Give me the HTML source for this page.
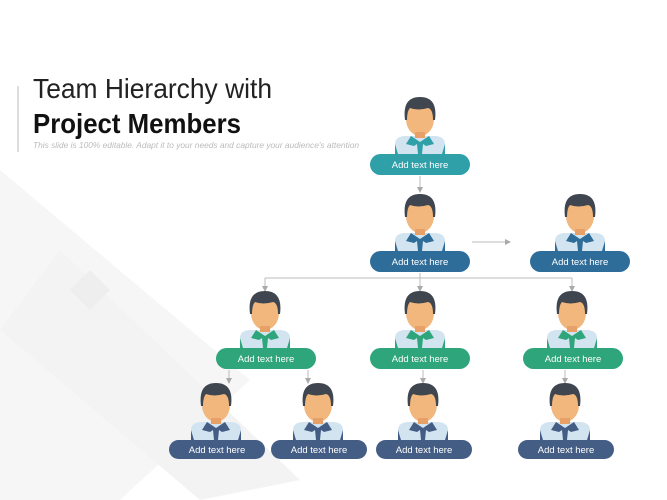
<!DOCTYPE html>
<html><head><meta charset="utf-8"><style>
html,body{margin:0;padding:0;background:#fff}
svg{display:block}
</style></head><body>
<svg width="667" height="500" viewBox="0 0 667 500" xmlns="http://www.w3.org/2000/svg" font-family="Liberation Sans, sans-serif">
<defs>
<marker id="ar" markerWidth="6" markerHeight="6" refX="3" refY="3" orient="auto"><path d="M0,0 L6,3 L0,6 z" fill="#aaa"/></marker>
<g id="p">
<path d="M-25,0 L-25,-10 Q-25,-17 -16,-18 L16,-18 Q25,-17 25,-10 L25,0 z" fill="#d3e4f1"/>
<ellipse cx="0" cy="-35" rx="14" ry="17" fill="#f2b77c"/>
<path d="M-15,-34 Q-18,-57 0,-57 Q18,-57 15,-34 L13,-34 Q13,-45 8,-46 Q-2,-43 -10,-46 Q-13,-43 -13,-34 z" fill="#3f4650"/>
<rect x="-5" y="-22" width="10" height="6" fill="#e6a068"/>
</g>
</defs>
<rect width="667" height="500" fill="#fff"/>
<path d="M0,170 L250,380 L120,500 L0,500 z" fill="#f6f6f6"/>
<path d="M60,250 L300,480 L200,500 L0,330 z" fill="#f3f3f3"/>
<path d="M90,270 L110,290 L90,310 L70,290z" fill="#eeeeee"/>
<rect x="17" y="86" width="2" height="66" fill="#ddd"/>
<text x="33" y="98" font-size="28" fill="#222" textLength="239" lengthAdjust="spacingAndGlyphs">Team Hierarchy with</text>
<text x="33" y="133" font-size="28" font-weight="bold" fill="#111" textLength="208" lengthAdjust="spacingAndGlyphs">Project Members</text>
<text x="33" y="148" font-size="8.5" font-style="italic" fill="#bbb" textLength="326" lengthAdjust="spacingAndGlyphs">This slide is 100% editable. Adapt it to your needs and capture your audience's attention</text>
<g stroke="#bbb" stroke-width="1" fill="none">
<line x1="420" y1="176" x2="420" y2="190" marker-end="url(#ar)"/>
<line x1="472" y1="242" x2="508" y2="242" marker-end="url(#ar)"/>
<polyline points="420,273 420,278"/>
<line x1="265" y1="278" x2="572" y2="278"/>
<line x1="265" y1="278" x2="265" y2="289" marker-end="url(#ar)"/>
<line x1="420" y1="278" x2="420" y2="289" marker-end="url(#ar)"/>
<line x1="572" y1="278" x2="572" y2="289" marker-end="url(#ar)"/>
<line x1="229" y1="370" x2="229" y2="381" marker-end="url(#ar)"/>
<line x1="308" y1="370" x2="308" y2="381" marker-end="url(#ar)"/>
<line x1="423" y1="370" x2="423" y2="381" marker-end="url(#ar)"/>
<line x1="565" y1="370" x2="565" y2="381" marker-end="url(#ar)"/>
</g>
<g>
<g transform="translate(420,154)"><use href="#p"/><path d="M-9,-18 L0,-12 L9,-18 L14,-10 L6,-8 L3,-10 L2,0 L-2,0 L-3,-10 L-6,-8 L-14,-10z M-25,-10 L-22,0 L-25,0z M25,-10 L22,0 L25,0z" fill="#2f9fa8"/></g>
<g transform="translate(420,251)"><use href="#p"/><path d="M-9,-18 L0,-12 L9,-18 L14,-10 L6,-8 L3,-10 L2,0 L-2,0 L-3,-10 L-6,-8 L-14,-10z M-25,-10 L-22,0 L-25,0z M25,-10 L22,0 L25,0z" fill="#2e6d9a"/></g>
<g transform="translate(580,251)"><use href="#p"/><path d="M-9,-18 L0,-12 L9,-18 L14,-10 L6,-8 L3,-10 L2,0 L-2,0 L-3,-10 L-6,-8 L-14,-10z M-25,-10 L-22,0 L-25,0z M25,-10 L22,0 L25,0z" fill="#2e6d9a"/></g>
<g transform="translate(265,348)"><use href="#p"/><path d="M-9,-18 L0,-12 L9,-18 L14,-10 L6,-8 L3,-10 L2,0 L-2,0 L-3,-10 L-6,-8 L-14,-10z M-25,-10 L-22,0 L-25,0z M25,-10 L22,0 L25,0z" fill="#2ea57a"/></g>
<g transform="translate(420,348)"><use href="#p"/><path d="M-9,-18 L0,-12 L9,-18 L14,-10 L6,-8 L3,-10 L2,0 L-2,0 L-3,-10 L-6,-8 L-14,-10z M-25,-10 L-22,0 L-25,0z M25,-10 L22,0 L25,0z" fill="#2ea57a"/></g>
<g transform="translate(572,348)"><use href="#p"/><path d="M-9,-18 L0,-12 L9,-18 L14,-10 L6,-8 L3,-10 L2,0 L-2,0 L-3,-10 L-6,-8 L-14,-10z M-25,-10 L-22,0 L-25,0z M25,-10 L22,0 L25,0z" fill="#2ea57a"/></g>
<g transform="translate(216,440)"><use href="#p"/><path d="M-9,-18 L0,-12 L9,-18 L14,-10 L6,-8 L3,-10 L2,0 L-2,0 L-3,-10 L-6,-8 L-14,-10z M-25,-10 L-22,0 L-25,0z M25,-10 L22,0 L25,0z" fill="#445d85"/></g>
<g transform="translate(318,440)"><use href="#p"/><path d="M-9,-18 L0,-12 L9,-18 L14,-10 L6,-8 L3,-10 L2,0 L-2,0 L-3,-10 L-6,-8 L-14,-10z M-25,-10 L-22,0 L-25,0z M25,-10 L22,0 L25,0z" fill="#445d85"/></g>
<g transform="translate(423,440)"><use href="#p"/><path d="M-9,-18 L0,-12 L9,-18 L14,-10 L6,-8 L3,-10 L2,0 L-2,0 L-3,-10 L-6,-8 L-14,-10z M-25,-10 L-22,0 L-25,0z M25,-10 L22,0 L25,0z" fill="#445d85"/></g>
<g transform="translate(565,440)"><use href="#p"/><path d="M-9,-18 L0,-12 L9,-18 L14,-10 L6,-8 L3,-10 L2,0 L-2,0 L-3,-10 L-6,-8 L-14,-10z M-25,-10 L-22,0 L-25,0z M25,-10 L22,0 L25,0z" fill="#445d85"/></g>
</g>
<g font-size="9.5" fill="#fff" text-anchor="middle">
<rect x="370" y="154" width="100" height="21" rx="10.5" fill="#2f9fa8"/><text x="420" y="168">Add text here</text>
<rect x="370" y="251" width="100" height="21" rx="10.5" fill="#2e6d9a"/><text x="420" y="265">Add text here</text>
<rect x="530" y="251" width="100" height="21" rx="10.5" fill="#2e6d9a"/><text x="580" y="265">Add text here</text>
<rect x="216" y="348" width="100" height="21" rx="10.5" fill="#2ea57a"/><text x="266" y="362">Add text here</text>
<rect x="370" y="348" width="100" height="21" rx="10.5" fill="#2ea57a"/><text x="420" y="362">Add text here</text>
<rect x="523" y="348" width="100" height="21" rx="10.5" fill="#2ea57a"/><text x="573" y="362">Add text here</text>
<rect x="169" y="440" width="96" height="19" rx="9.5" fill="#445d85"/><text x="217" y="453">Add text here</text>
<rect x="271" y="440" width="96" height="19" rx="9.5" fill="#445d85"/><text x="319" y="453">Add text here</text>
<rect x="376" y="440" width="96" height="19" rx="9.5" fill="#445d85"/><text x="424" y="453">Add text here</text>
<rect x="518" y="440" width="96" height="19" rx="9.5" fill="#445d85"/><text x="566" y="453">Add text here</text>
</g>
</svg>
</body></html>
